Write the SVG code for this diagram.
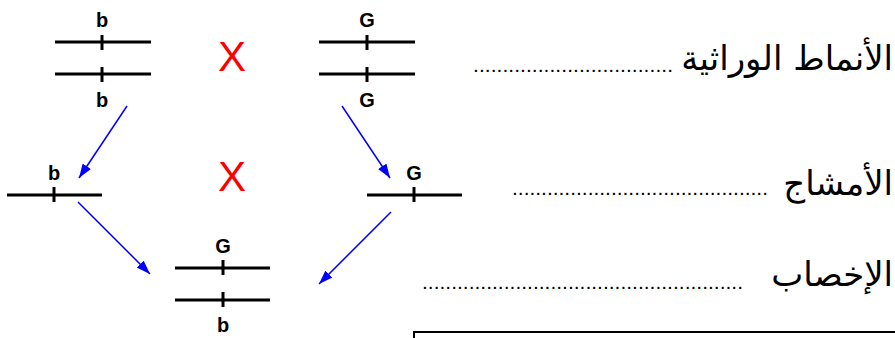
<svg xmlns="http://www.w3.org/2000/svg" width="895" height="338" viewBox="0 0 895 338">
<style>
.chr{stroke:#000;stroke-width:3;fill:none}
.lbl{font-family:"Liberation Sans",Arial,sans-serif;font-weight:bold;font-size:20px;fill:#000;text-anchor:middle}
.cross{font-family:"Liberation Sans",Arial,sans-serif;font-size:42px;fill:#FF0000;text-anchor:middle}
.ar{font-family:"DejaVu Sans",sans-serif;font-size:34px;fill:#000;text-anchor:end}
.dots{font-family:"Liberation Sans",Arial,sans-serif;font-size:21px;fill:#000}
.arrow{stroke:#0000FF;stroke-width:1.5;fill:none;marker-end:url(#ah)}
</style>
<defs>
<marker id="ah" markerUnits="userSpaceOnUse" markerWidth="14" markerHeight="10" refX="14" refY="5" orient="auto">
<path d="M0,0 L14,5 L0,10 z" fill="#0000FF"/>
</marker>
</defs>
<rect width="895" height="338" fill="#fff"/>

<g id="parent-b">
<path class="chr" d="M55,42 H151 M102,35 V50 M55,74 H151 M102,67 V82"/>
<text class="lbl" x="102" y="27">b</text>
<text class="lbl" x="102" y="107">b</text>
</g>
<text id="cross1" class="cross" x="232" y="71">X</text>
<g id="parent-G">
<path class="chr" d="M319,42 H415 M367,35 V50 M319,74 H415 M367,67 V82"/>
<text class="lbl" x="367" y="27">G</text>
<text class="lbl" x="367" y="107">G</text>
</g>

<g id="gamete-b">
<path class="chr" d="M7,195 H102 M54,187 V202"/>
<text class="lbl" x="54" y="180">b</text>
</g>
<text id="cross2" class="cross" x="232" y="191">X</text>
<g id="gamete-G">
<path class="chr" d="M367,195 H462 M414,187 V202"/>
<text class="lbl" x="414" y="180">G</text>
</g>

<g id="zygote">
<path class="chr" d="M175,268 H270 M223,260 V275 M175,300 H270 M223,292 V307"/>
<text class="lbl" x="223" y="253">G</text>
<text class="lbl" x="223" y="332">b</text>
</g>

<g id="connectors">
<line class="arrow" x1="127" y1="106" x2="79" y2="178"/>
<line class="arrow" x1="342" y1="106" x2="390" y2="178"/>
<line class="arrow" x1="78" y1="202" x2="150" y2="274"/>
<line class="arrow" x1="391" y1="212" x2="319" y2="284"/>
</g>

<g id="label-genotypes">
<text class="ar" x="893" y="70">الأنماط الوراثية</text>
<text class="dots" x="473" y="72" textLength="200" lengthAdjust="spacing">..................................</text>
</g>
<g id="label-gametes">
<text class="ar" x="893" y="195">الأمشاج</text>
<text class="dots" x="512" y="195" textLength="256" lengthAdjust="spacing">............................................</text>
</g>
<g id="label-fertilization">
<text class="ar" x="893" y="286">الإخصاب</text>
<text class="dots" x="422" y="289" textLength="321" lengthAdjust="spacing">.......................................................</text>
</g>

<path id="box" d="M414,338 V332 H896" stroke="#000" stroke-width="2" fill="none"/>
</svg>
